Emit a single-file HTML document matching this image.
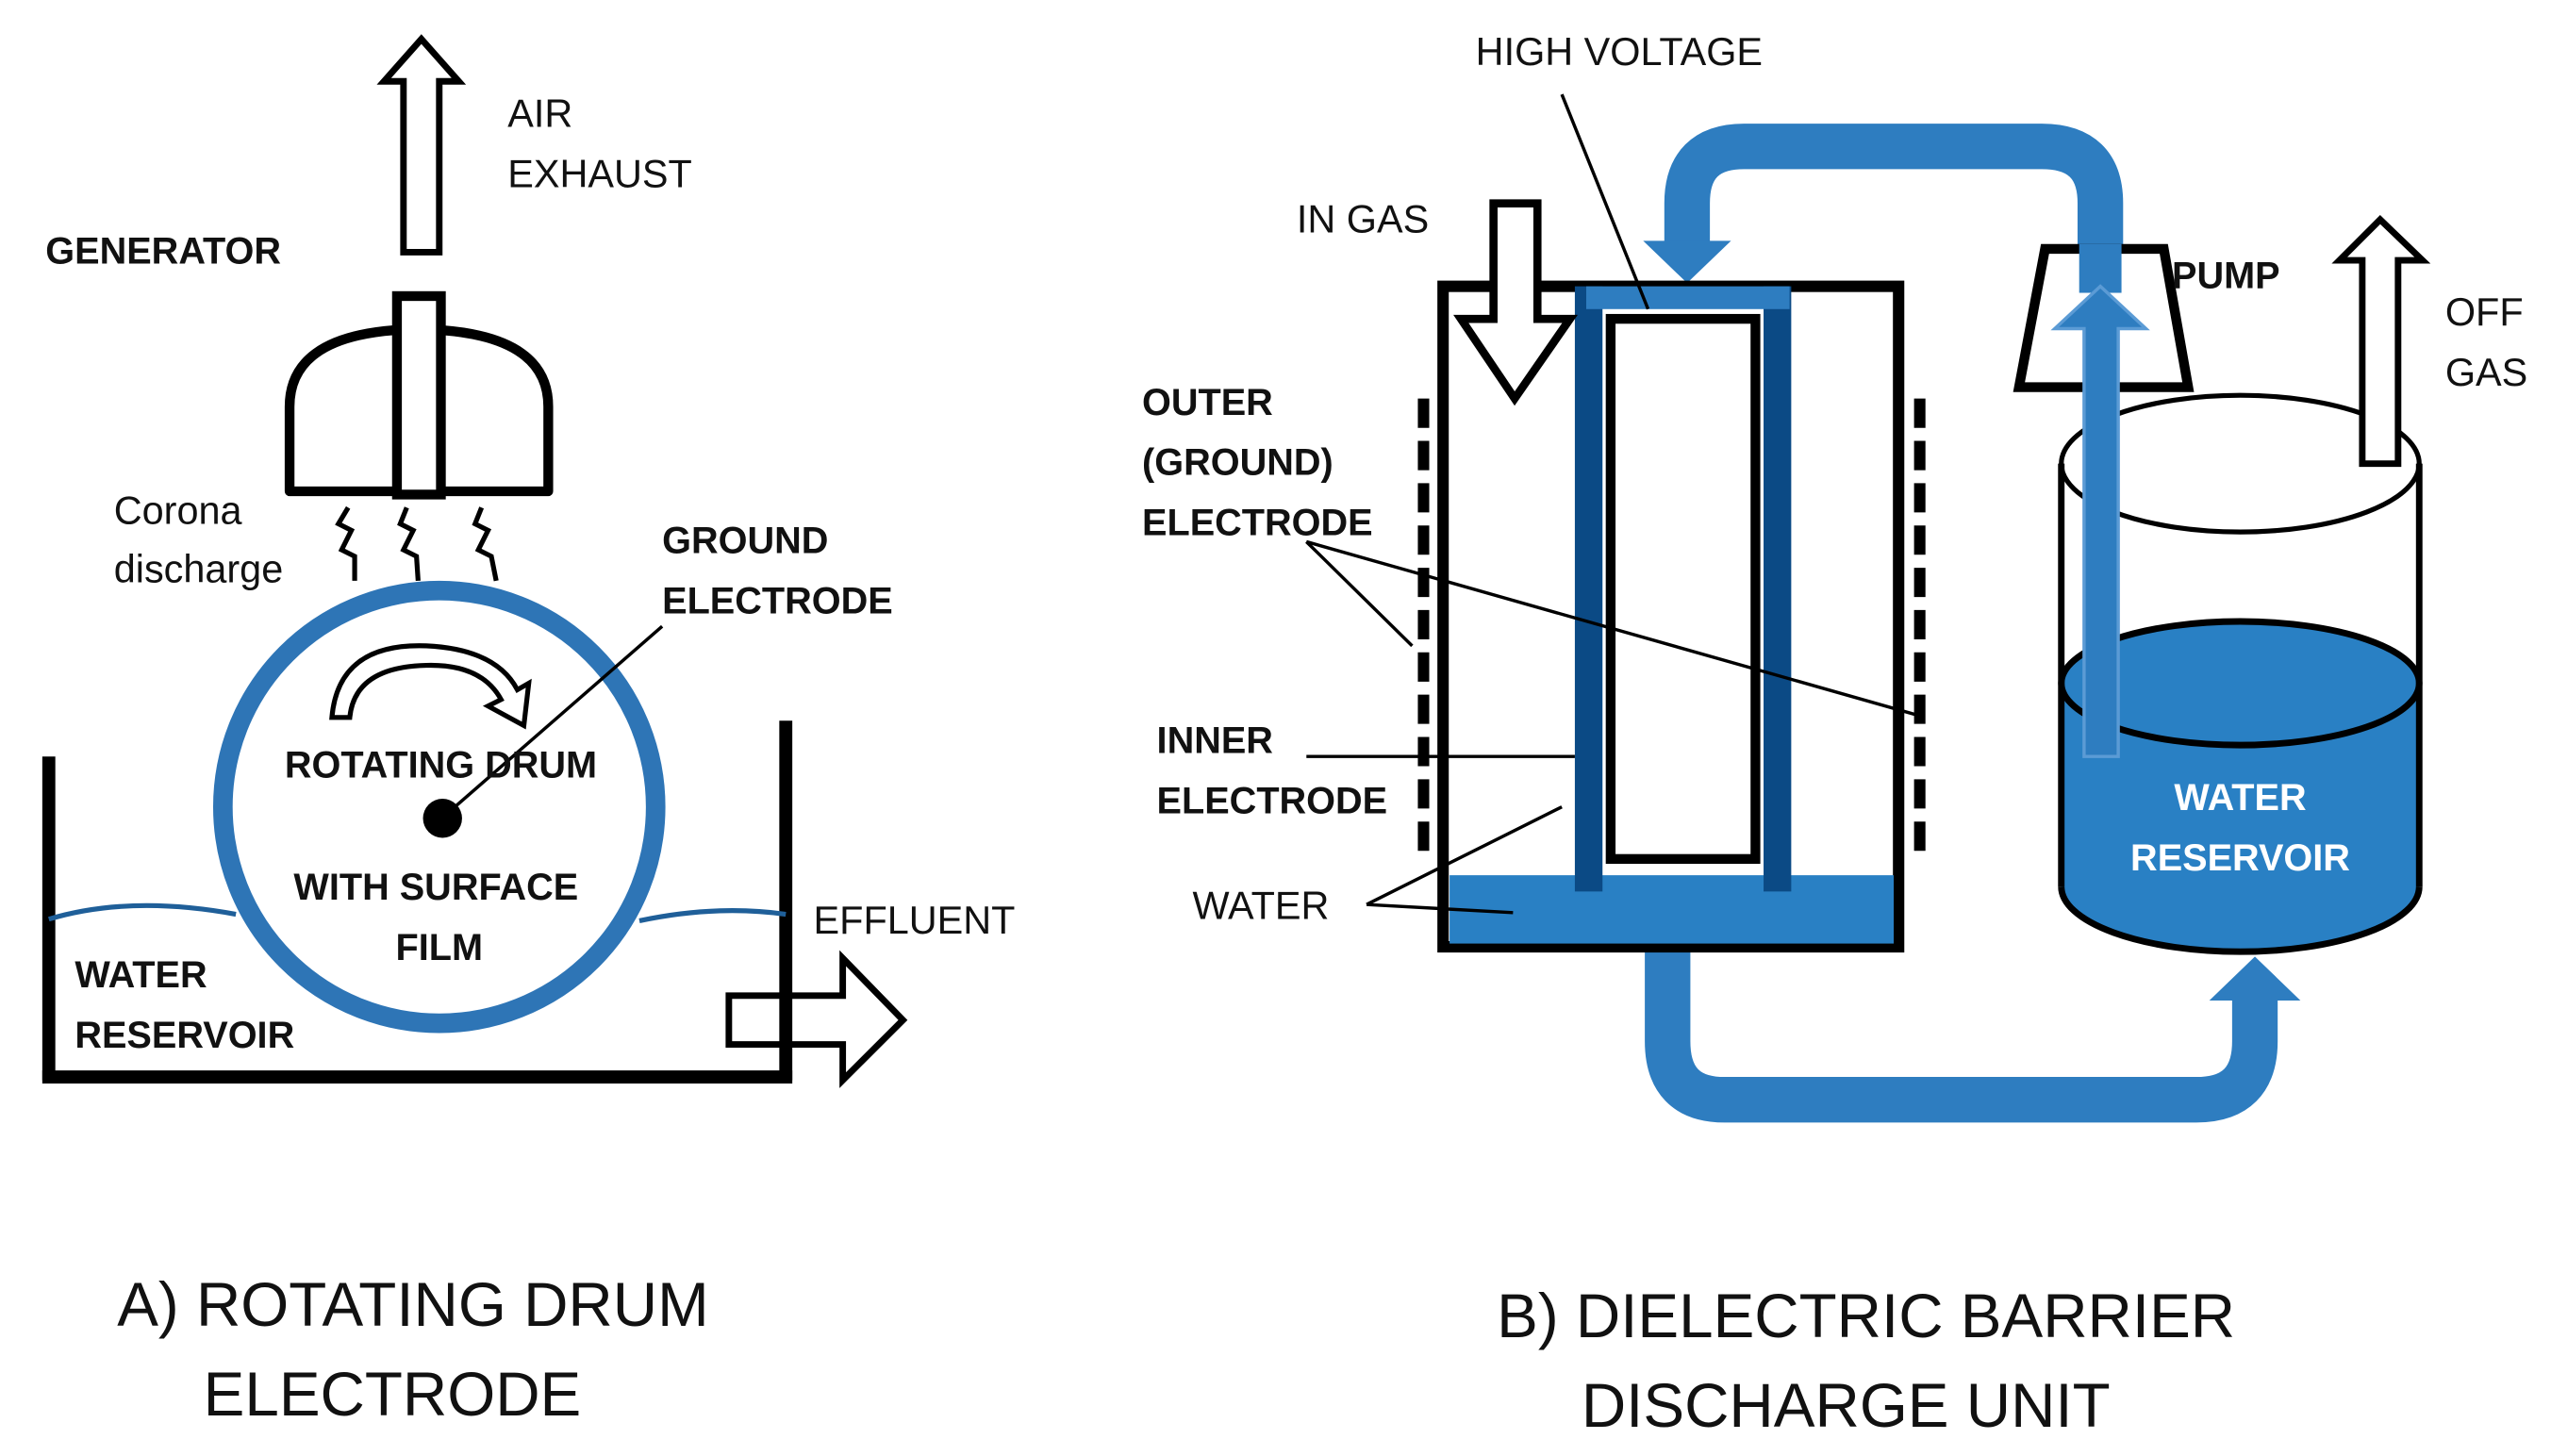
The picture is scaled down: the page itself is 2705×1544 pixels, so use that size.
<!DOCTYPE html>
<html><head><meta charset="utf-8"><style>
html,body{margin:0;padding:0;background:#fff;}
svg{display:block;}
text{font-family:"Liberation Sans",sans-serif;}
.n{font-size:24px;fill:#111;}
.b{font-size:23px;font-weight:bold;fill:#111;}
.t{font-size:38px;fill:#111;}
</style></head><body>
<svg width="2705" height="1544" viewBox="0 0 1568 895" preserveAspectRatio="none" xmlns="http://www.w3.org/2000/svg">
<!-- LEFT -->
<!-- air exhaust arrow -->
<path d="M248,155 L248,50 L236,50 L259,24 L282,50 L270,50 L270,155 Z" fill="#fff" stroke="#000" stroke-width="4"/>
<text class="n" x="312" y="78">AIR</text>
<text class="n" x="312" y="115">EXHAUST</text>
<text class="b" x="28" y="162">GENERATOR</text>
<!-- generator -->
<path d="M178,302 L178,250 Q178,208 242,203 L272,203 Q337,208 337,250 L337,302 Z" fill="#fff" stroke="#000" stroke-width="6" stroke-linejoin="round"/>
<rect x="244" y="182" width="27" height="122" fill="#fff" stroke="#000" stroke-width="6"/>
<!-- corona spikes -->
<g stroke="#000" stroke-width="3" fill="none">
<path d="M214,312 L208,322 L216,326 L210,338 L218,342 L218,357"/>
<path d="M250,312 L246,322 L254,326 L248,338 L256,342 L257,357"/>
<path d="M296,312 L292,322 L300,326 L294,338 L302,342 L305,357"/>
</g>
<text class="n" x="70" y="322">Corona</text>
<text class="n" x="70" y="358">discharge</text>
<!-- tank -->
<g stroke="#000" stroke-width="8" fill="none">
<line x1="30" y1="465" x2="30" y2="664"/>
<line x1="26" y1="662" x2="487" y2="662"/>
<line x1="483" y1="443" x2="483" y2="664"/>
</g>
<path d="M30,565 Q80,550 145,562" stroke="#1f5f99" stroke-width="3" fill="none"/>
<path d="M393,566 Q440,556 483,562" stroke="#1f5f99" stroke-width="3" fill="none"/>
<!-- drum -->
<circle cx="270" cy="496" r="133" fill="#fff" stroke="#2e75b6" stroke-width="12"/>
<circle cx="272" cy="503" r="12" fill="#000"/>
<line x1="275" y1="500" x2="407" y2="385" stroke="#000" stroke-width="2"/>
<!-- curved arrow -->
<path d="M204,441 Q208,395 262,397 Q305,399 318,424 L325,420 L322,446 L300,434 L308,430 Q296,408 262,409 Q218,410 215,441 Z" fill="#fff" stroke="#000" stroke-width="3"/>
<text class="b" x="271" y="478" text-anchor="middle">ROTATING DRUM</text>
<text class="b" x="268" y="553" text-anchor="middle">WITH SURFACE</text>
<text class="b" x="270" y="590" text-anchor="middle">FILM</text>
<text class="b" x="407" y="340">GROUND</text>
<text class="b" x="407" y="377">ELECTRODE</text>
<text class="b" x="46" y="607">WATER</text>
<text class="b" x="46" y="644">RESERVOIR</text>
<!-- effluent arrow -->
<path d="M448,612 L518,612 L518,589 L555,627 L518,664 L518,642 L448,642 Z" fill="none" stroke="#000" stroke-width="4"/>
<text class="n" x="500" y="574">EFFLUENT</text>
<text class="t" x="72" y="815">A) ROTATING DRUM</text>
<text class="t" x="125" y="870">ELECTRODE</text>

<!-- RIGHT -->
<text class="n" x="907" y="40">HIGH VOLTAGE</text>
<!-- blue pipes -->
<path d="M1037,150 L1037,125 Q1037,90 1072,90 L1255,90 Q1291,90 1291,125 L1291,175" fill="none" stroke="#2e7dc0" stroke-width="28"/>
<path d="M1010,148 L1064,148 L1037,174 Z" fill="#2e7dc0"/>
<path d="M1025,585 L1025,640 Q1025,676 1060,676 L1350,676 Q1386,676 1386,640 L1386,612" fill="none" stroke="#2e7dc0" stroke-width="28"/>
<path d="M1358,615 L1414,615 L1386,588 Z" fill="#2e7dc0"/>
<!-- main box -->
<rect x="887" y="176" width="280" height="406" fill="#fff" stroke="#000" stroke-width="7"/>
<rect x="891" y="538" width="273" height="42" fill="#2980c4"/>
<rect x="968" y="176" width="17" height="372" fill="#0b4a85"/>
<rect x="1084" y="176" width="17" height="372" fill="#0b4a85"/>
<rect x="975" y="176" width="125" height="14" fill="#2e7dc0"/>
<rect x="990" y="196" width="89" height="332" fill="#fff" stroke="#000" stroke-width="6"/>
<line x1="960" y1="58" x2="1013" y2="190" stroke="#000" stroke-width="2"/>
<!-- outer dashed electrodes -->
<line x1="875" y1="245" x2="875" y2="525" stroke="#000" stroke-width="7" stroke-dasharray="18,8"/>
<line x1="1180" y1="245" x2="1180" y2="525" stroke="#000" stroke-width="7" stroke-dasharray="18,8"/>
<!-- in gas arrow -->
<path d="M918,125 L945,125 L945,196 L965,196 L931,245 L898,196 L918,196 Z" fill="#fff" stroke="#000" stroke-width="5"/>
<text class="n" x="797" y="143">IN GAS</text>
<text class="b" x="702" y="255">OUTER</text>
<text class="b" x="702" y="292">(GROUND)</text>
<text class="b" x="702" y="329">ELECTRODE</text>
<g stroke="#000" stroke-width="2">
<line x1="803" y1="333" x2="868" y2="397"/>
<line x1="803" y1="333" x2="1180" y2="440"/>
<line x1="803" y1="465" x2="968" y2="465"/>
<line x1="840" y1="556" x2="960" y2="496"/>
<line x1="840" y1="556" x2="930" y2="561"/>
</g>
<text class="b" x="711" y="463">INNER</text>
<text class="b" x="711" y="500">ELECTRODE</text>
<text class="n" x="733" y="565">WATER</text>
<!-- reservoir cylinder -->
<path d="M1267,420 L1267,545 A110,40 0 0 0 1487,545 L1487,420 Z" fill="#2980c4"/>
<path d="M1267,545 A110,40 0 0 0 1487,545" fill="none" stroke="#000" stroke-width="4"/>
<ellipse cx="1377" cy="420" rx="110" ry="38" fill="#2980c4" stroke="#000" stroke-width="4"/>
<line x1="1267" y1="285" x2="1267" y2="545" stroke="#000" stroke-width="4"/>
<line x1="1487" y1="285" x2="1487" y2="545" stroke="#000" stroke-width="4"/>
<ellipse cx="1377" cy="285" rx="110" ry="42" fill="none" stroke="#000" stroke-width="3"/>
<text x="1377" y="498" text-anchor="middle" style="font-size:23px;font-weight:bold;fill:#fff">WATER</text>
<text x="1377" y="535" text-anchor="middle" style="font-size:23px;font-weight:bold;fill:#fff">RESERVOIR</text>
<!-- pump -->
<path d="M1257,153 L1330,153 L1345,238 L1241,238 Z" fill="#fff" stroke="#000" stroke-width="6"/>
<rect x="1278" y="150" width="26" height="30" fill="#2e7dc0"/>
<path d="M1281,465 L1281,202 L1263,202 L1291,176 L1319,202 L1302,202 L1302,465 Z" fill="#2e7dc0" stroke="#5b9bd5" stroke-width="2"/>
<text class="b" x="1335" y="177">PUMP</text>
<!-- off gas -->
<path d="M1452,285 L1452,160 L1438,160 L1463,135 L1489,160 L1474,160 L1474,285 Z" fill="#fff" stroke="#000" stroke-width="4"/>
<text class="n" x="1503" y="200">OFF</text>
<text class="n" x="1503" y="237">GAS</text>
<text class="t" x="920" y="822">B) DIELECTRIC BARRIER</text>
<text class="t" x="972" y="877">DISCHARGE UNIT</text>
</svg>
</body></html>
